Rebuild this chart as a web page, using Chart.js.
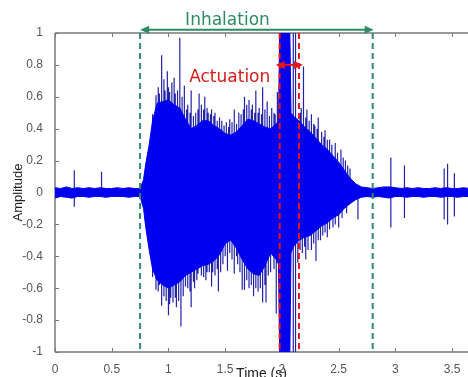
<!DOCTYPE html>
<html>
<head>
<meta charset="utf-8">
<script src="https://cdn.jsdelivr.net/npm/chart.js@4/dist/chart.umd.min.js"></script>
<style>
  html, body { margin: 0; padding: 0; background: #fff; overflow: hidden; }
  canvas { display: block; }
</style>
</head>
<body>
<canvas id="c" width="468" height="377"></canvas>
<script>
// envelope of the recorded signal (time in s, amplitude)
var envT  = [0, 0.05, 0.10, 0.15, 0.20, 0.25, 0.30, 0.35, 0.40, 0.45,
             0.50, 0.55, 0.60, 0.65, 0.70, 0.75, 0.78, 0.80, 0.83, 0.86,
             0.90, 0.95, 1.00, 1.05, 1.10, 1.15, 1.20, 1.25, 1.30, 1.35,
             1.40, 1.45, 1.50, 1.55, 1.60, 1.65, 1.70, 1.75, 1.80, 1.85,
             1.90, 1.95, 1.97, 1.98, 2.07, 2.08, 2.10, 2.15, 2.20, 2.25,
             2.30, 2.35, 2.40, 2.45, 2.50, 2.55, 2.60, 2.65, 2.70, 2.75,
             2.80, 2.85, 2.90, 2.95, 3.00, 3.05, 3.10, 3.15, 3.20, 3.25,
             3.30, 3.35, 3.40, 3.45, 3.50, 3.55, 3.60, 3.65];
var envHi = [0.03, 0.025, 0.035, 0.025, 0.03, 0.025, 0.03, 0.025, 0.03, 0.025,
             0.025, 0.03, 0.025, 0.03, 0.025, 0.025, 0.08, 0.18, 0.30, 0.45,
             0.56, 0.57, 0.58, 0.55, 0.53, 0.46, 0.40, 0.42, 0.45, 0.45,
             0.42, 0.40, 0.37, 0.36, 0.38, 0.42, 0.46, 0.45, 0.43, 0.41,
             0.40, 0.43, 0.45, 1.0, 1.0, 0.50, 0.48, 0.45, 0.41, 0.38,
             0.34, 0.30, 0.27, 0.23, 0.19, 0.14, 0.09, 0.055, 0.035, 0.03,
             0.025, 0.03, 0.035, 0.035, 0.03, 0.025, 0.03, 0.025, 0.03, 0.025,
             0.025, 0.03, 0.025, 0.03, 0.025, 0.025, 0.03, 0.025];
var envLo = [-0.035, -0.025, -0.03, -0.035, -0.025, -0.025, -0.03, -0.025, -0.025, -0.03,
             -0.025, -0.025, -0.025, -0.03, -0.025, -0.025, -0.10, -0.22, -0.36, -0.48,
             -0.55, -0.58, -0.60, -0.58, -0.56, -0.52, -0.50, -0.48, -0.46, -0.45,
             -0.43, -0.39, -0.32, -0.30, -0.35, -0.42, -0.48, -0.51, -0.52, -0.46,
             -0.38, -0.42, -0.45, -1.0, -1.0, -0.38, -0.34, -0.30, -0.28, -0.27,
             -0.24, -0.21, -0.19, -0.16, -0.14, -0.10, -0.07, -0.045, -0.03, -0.025,
             -0.03, -0.025, -0.03, -0.035, -0.025, -0.025, -0.03, -0.025, -0.025, -0.03,
             -0.025, -0.025, -0.03, -0.025, -0.025, -0.03, -0.025, -0.025];

// single peaks sticking out of the envelope
var upT = [0.17, 0.41, 0.86, 0.89, 0.91, 0.92, 0.94, 0.96, 0.97, 0.99,
           1.00, 1.01, 1.03, 1.05, 1.06, 1.08, 1.10, 1.12, 1.14, 1.16,
           1.17, 1.19, 1.20, 1.22, 1.24, 1.26, 1.27, 1.29, 1.31, 1.32,
           1.34, 1.35, 1.37, 1.38, 1.40, 1.41, 1.43, 1.45, 1.47, 1.49,
           1.51, 1.53, 1.54, 1.56, 1.58, 1.60, 1.62, 1.64, 1.66, 1.67,
           1.69, 1.71, 1.73, 1.74, 1.76, 1.77, 1.79, 1.80, 1.82, 1.83,
           1.85, 1.87, 1.89, 1.91, 1.93, 1.94, 1.96, 2.10, 2.12, 2.16,
           2.17, 2.19, 2.21, 2.22, 2.24, 2.26, 2.28, 2.29, 2.31, 2.32,
           2.35, 2.37, 2.38, 2.40, 2.42, 2.44, 2.47, 2.49, 2.52, 2.54,
           2.56, 2.58, 2.60, 2.96, 3.08, 3.43, 3.46, 3.52];
var upV = [0.14, 0.13, 0.49, 0.61, 0.66, 0.62, 0.86, 0.71, 0.64, 0.76,
           0.66, 0.63, 0.69, 0.72, 0.62, 0.64, 0.97, 0.60, 0.67, 0.52,
           0.55, 0.50, 0.64, 0.48, 0.50, 0.52, 0.62, 0.55, 0.52, 0.60,
           0.53, 0.50, 0.49, 0.52, 0.48, 0.50, 0.45, 0.47, 0.45, 0.42,
           0.44, 0.41, 0.46, 0.44, 0.52, 0.43, 0.50, 0.49, 0.52, 0.60,
           0.55, 0.58, 0.52, 0.55, 0.50, 0.64, 0.50, 0.53, 0.49, 0.66,
           0.52, 0.57, 0.48, 0.53, 0.50, 0.49, 0.63, 1.0, 1.0, 0.50,
           0.53, 0.79, 0.47, 0.52, 0.45, 0.49, 0.43, 0.42, 0.40, 0.47,
           0.38, 0.35, 0.39, 0.33, 0.33, 0.30, 0.31, 0.25, 0.27, 0.22,
           0.20, 0.17, 0.15, 0.22, 0.17, 0.15, 0.18, 0.12];
var dnT = [0.17, 0.86, 0.89, 0.91, 0.92, 0.94, 0.96, 0.98, 1.00, 1.01,
           1.02, 1.04, 1.06, 1.07, 1.09, 1.11, 1.13, 1.15, 1.17, 1.19,
           1.20, 1.22, 1.23, 1.25, 1.26, 1.29, 1.31, 1.33, 1.34, 1.36,
           1.38, 1.39, 1.41, 1.43, 1.44, 1.46, 1.48, 1.50, 1.52, 1.54,
           1.56, 1.58, 1.60, 1.61, 1.63, 1.65, 1.67, 1.69, 1.71, 1.73,
           1.75, 1.77, 1.79, 1.81, 1.83, 1.85, 1.86, 1.88, 1.90, 1.93,
           1.95, 2.10, 2.12, 2.14, 2.16, 2.18, 2.20, 2.21, 2.23, 2.26,
           2.28, 2.30, 2.32, 2.34, 2.36, 2.38, 2.40, 2.42, 2.45, 2.47,
           2.50, 2.53, 2.57, 2.67, 2.96, 3.08, 3.43, 3.46, 3.52];
var dnV = [-0.09, -0.53, -0.61, -0.62, -0.58, -0.71, -0.65, -0.68, -0.77, -0.70,
           -0.66, -0.69, -0.66, -0.72, -0.68, -0.84, -0.65, -0.59, -0.60, -0.62,
           -0.72, -0.56, -0.60, -0.55, -0.51, -0.52, -0.53, -0.55, -0.50, -0.50,
           -0.59, -0.50, -0.52, -0.48, -0.62, -0.50, -0.45, -0.40, -0.49, -0.38,
           -0.42, -0.51, -0.40, -0.45, -0.50, -0.61, -0.61, -0.55, -0.60, -0.58,
           -0.65, -0.60, -0.62, -0.60, -0.69, -0.58, -0.69, -0.52, -0.50, -0.48,
           -0.76, -1.0, -1.0, -0.44, -0.36, -0.38, -0.34, -0.42, -0.36, -0.36,
           -0.32, -0.43, -0.30, -0.30, -0.27, -0.25, -0.28, -0.23, -0.22, -0.20,
           -0.22, -0.16, -0.13, -0.17, -0.22, -0.16, -0.17, -0.20, -0.15];

// marked phases (s)
var inhalation = [0.75, 2.80];
var actuation  = [1.98, 2.15];

var xTicks = [0, 0.5, 1, 1.5, 2, 2.5, 3, 3.5];
var yTicks = [-1, -0.8, -0.6, -0.4, -0.2, 0, 0.2, 0.4, 0.6, 0.8, 1];

var GREEN = '#2e8b64';
var RED = '#e8141c';
var BLUE = '#0000f0';

function pts(xs, ys) {
	return xs.map(function (x, i) { return {x: x, y: ys[i]}; });
}

function spikes(xs, ys) {
	var out = [];
	xs.forEach(function (x, i) {
		out.push({x: x, y: 0}, {x: x, y: ys[i]}, {x: x, y: null});
	});
	return out;
}

function arrow(ctx, x1, x2, y, color) {
	var hl = 9, hw = 4;
	ctx.save();
	ctx.strokeStyle = color;
	ctx.fillStyle = color;
	ctx.lineWidth = 2;
	ctx.setLineDash([]);
	ctx.beginPath();
	ctx.moveTo(x1 + hl - 1, y);
	ctx.lineTo(x2 - hl + 1, y);
	ctx.stroke();
	ctx.beginPath();
	ctx.moveTo(x1, y); ctx.lineTo(x1 + hl, y - hw); ctx.lineTo(x1 + hl, y + hw); ctx.closePath();
	ctx.fill();
	ctx.beginPath();
	ctx.moveTo(x2, y); ctx.lineTo(x2 - hl, y - hw); ctx.lineTo(x2 - hl, y + hw); ctx.closePath();
	ctx.fill();
	ctx.restore();
}

var decor = {
	id: 'decor',
	beforeDatasetsDraw: function (chart) {
		var ctx = chart.ctx, a = chart.chartArea;
		var xs = chart.scales.x, ys = chart.scales.y;
		ctx.save();
		ctx.strokeStyle = '#7a7a7a';
		ctx.lineWidth = 1.5;
		ctx.beginPath();
		ctx.moveTo(a.left, a.top); ctx.lineTo(a.right + 2, a.top);
		ctx.moveTo(a.left, a.bottom); ctx.lineTo(a.right + 2, a.bottom);
		ctx.moveTo(a.left, a.top); ctx.lineTo(a.left, a.bottom);
		ctx.stroke();
		ctx.lineWidth = 1;
		ctx.beginPath();
		xTicks.forEach(function (t) {
			var px = Math.round(xs.getPixelForValue(t)) + 0.5;
			ctx.moveTo(px, a.bottom); ctx.lineTo(px, a.bottom - 4);
			ctx.moveTo(px, a.top); ctx.lineTo(px, a.top + 4);
		});
		yTicks.forEach(function (v) {
			var py = Math.round(ys.getPixelForValue(v)) + 0.5;
			ctx.moveTo(a.left, py); ctx.lineTo(a.left + 4, py);
		});
		ctx.stroke();
		ctx.restore();
	},
	afterDatasetsDraw: function (chart) {
		var ctx = chart.ctx, a = chart.chartArea;
		var xs = chart.scales.x, ys = chart.scales.y;
		ctx.save();
		ctx.lineWidth = 2;
		ctx.setLineDash([6, 4]);
		ctx.strokeStyle = GREEN;
		inhalation.forEach(function (t) {
			var px = xs.getPixelForValue(t);
			ctx.beginPath(); ctx.moveTo(px, a.top); ctx.lineTo(px, a.bottom); ctx.stroke();
		});
		ctx.strokeStyle = RED;
		actuation.forEach(function (t) {
			var px = xs.getPixelForValue(t);
			ctx.beginPath(); ctx.moveTo(px, a.top); ctx.lineTo(px, a.bottom); ctx.stroke();
		});
		ctx.restore();

		arrow(ctx, xs.getPixelForValue(inhalation[0]), xs.getPixelForValue(inhalation[1]) + 1, ys.getPixelForValue(1.02), GREEN);
		arrow(ctx, xs.getPixelForValue(actuation[0]) - 4, xs.getPixelForValue(actuation[1]) + 4, ys.getPixelForValue(0.8), RED);

		ctx.save();
		ctx.textAlign = 'center';
		ctx.textBaseline = 'alphabetic';
		ctx.font = '17px "DejaVu Sans", sans-serif';
		ctx.fillStyle = GREEN;
		ctx.fillText('Inhalation', xs.getPixelForValue(1.52), ys.getPixelForValue(1.05));
		ctx.fillStyle = '#d81b1b';
		ctx.fillText('Actuation', xs.getPixelForValue(1.54), ys.getPixelForValue(0.69));
		ctx.restore();
	}
};

Chart.defaults.font.family = '"Liberation Sans", Arial, sans-serif';
Chart.defaults.color = '#555';

new Chart(document.getElementById('c').getContext('2d'), {
	type: 'line',
	data: {
		datasets: [
			{
				label: 'upper',
				data: pts(envT, envHi),
				borderColor: BLUE,
				backgroundColor: BLUE,
				borderWidth: 1,
				pointRadius: 0,
				fill: '+1',
				order: 1
			},
			{
				label: 'lower',
				data: pts(envT, envLo),
				borderColor: BLUE,
				borderWidth: 1,
				pointRadius: 0,
				fill: false,
				order: 1
			},
			{
				label: 'peaks up',
				data: spikes(upT, upV),
				borderColor: '#2323a8',
				borderWidth: 1.2,
				pointRadius: 0,
				fill: false,
				spanGaps: false,
				order: 2
			},
			{
				label: 'peaks down',
				data: spikes(dnT, dnV),
				borderColor: '#2323a8',
				borderWidth: 1.2,
				pointRadius: 0,
				fill: false,
				spanGaps: false,
				order: 2
			}
		]
	},
	options: {
		responsive: false,
		animation: false,
		layout: { padding: { top: 33, right: 0, left: 0, bottom: 0 } },
		plugins: { legend: { display: false }, tooltip: { enabled: false } },
		elements: { line: { tension: 0 } },
		scales: {
			x: {
				type: 'linear',
				min: 0,
				max: 3.64,
				grid: { display: false },
				border: { display: false },
				afterFit: function (s) { s.height = 25; },
				afterBuildTicks: function (s) { s.ticks = xTicks.map(function (v) { return {value: v}; }); },
				ticks: {
					font: { size: 12 },
					padding: 2,
					maxRotation: 0,
					callback: function (v) { return String(+v.toFixed(2)); }
				},
				title: {
					display: true,
					text: 'Time (s)',
					color: '#222',
					font: { size: 14 },
					padding: { top: 0, bottom: -6 }
				}
			},
			y: {
				min: -1,
				max: 1,
				grid: { display: false },
				border: { display: false },
				afterFit: function (s) { s.width = 55; },
				afterBuildTicks: function (s) { s.ticks = yTicks.map(function (v) { return {value: v}; }); },
				ticks: {
					font: { size: 12 },
					padding: 4,
					callback: function (v) { return String(+v.toFixed(2)); }
				},
				title: {
					display: true,
					text: 'Amplitude',
					color: '#222',
					font: { size: 13 },
					padding: { top: 11, bottom: 0 }
				}
			}
		}
	},
	plugins: [decor]
});
</script>
</body>
</html>
